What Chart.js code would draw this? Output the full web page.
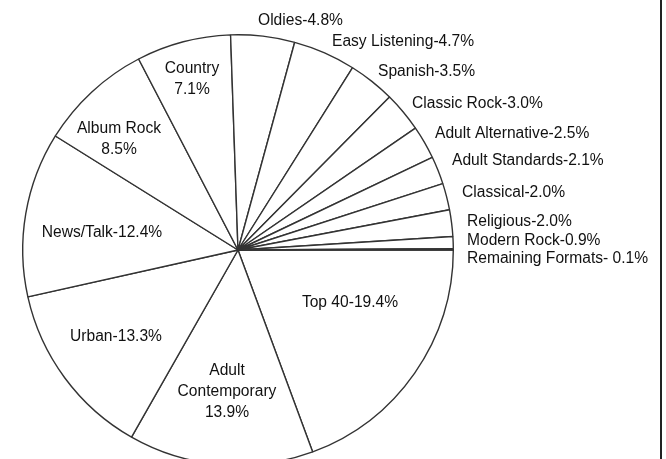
<!DOCTYPE html>
<html>
<head>
<meta charset="utf-8">
<script src="https://cdn.jsdelivr.net/npm/chart.js@4.4.1/dist/chart.umd.min.js"></script>
<style>
  html, body { margin: 0; padding: 0; background: #fff; overflow: hidden; }
  #wrap { position: relative; width: 660px; height: 480px; border-right: 2px solid #222; }
</style>
</head>
<body>
<div id="wrap"><canvas id="myChart"></canvas></div>
<script>
// slices go clockwise starting at 3 o'clock
let formats = [
  'Top 40', 'Adult Contemporary', 'Urban', 'News/Talk', 'Album Rock', 'Country',
  'Oldies', 'Easy Listening', 'Spanish', 'Classic Rock', 'Adult Alternative',
  'Adult Standards', 'Classical', 'Religious', 'Modern Rock', 'Remaining Formats'
]
let shares = [19.4, 13.9, 13.3, 12.4, 8.5, 7.1, 4.8, 4.7, 3.5, 3.0, 2.5, 2.1, 2.0, 2.0, 0.9, 0.1]

// where each label sits, relative to pie centre, in pixels (left = left aligned, else centred)
let labelSpots = [
  { x: 112, y: 53, lines: 'one' },
  { x: -11, y: 142, lines: ['Adult', 'Contemporary', '#'] },
  { x: -122, y: 87, lines: 'one' },
  { x: -136, y: -17, lines: 'one' },
  { x: -119, y: -111, lines: ['Album Rock', '#'] },
  { x: -46, y: -171, lines: ['Country', '#'] },
  { x: 20, y: -229, lines: 'one', left: true },
  { x: 94, y: -208, lines: 'one', left: true },
  { x: 140, y: -178, lines: 'one', left: true },
  { x: 174, y: -146, lines: 'one', left: true },
  { x: 197, y: -116, lines: 'one', left: true },
  { x: 214, y: -89, lines: 'one', left: true },
  { x: 224, y: -57, lines: 'one', left: true },
  { x: 229, y: -28, lines: 'one', left: true },
  { x: 229, y: -9, lines: 'one', left: true },
  { x: 229, y: 9, lines: 'one', left: true, gap: ' ' }
]

const pieLabels = {
  id: 'pieLabels',
  afterDraw(chart) {
    let ctx = chart.ctx
    let arc = chart.getDatasetMeta(0).data[0]
    let cx = arc.x, cy = arc.y
    ctx.save()
    ctx.fillStyle = '#111'
    ctx.font = '15.6px "Liberation Sans", Arial, sans-serif'
    ctx.textBaseline = 'middle'
    formats.forEach((name, i) => {
      let spot = labelSpots[i]
      let pct = shares[i].toFixed(1) + '%'
      let lines
      if (spot.lines === 'one') lines = [name + '-' + (spot.gap || '') + pct]
      else lines = spot.lines.map((l) => (l === '#' ? pct : l))
      ctx.textAlign = spot.left ? 'left' : 'center'
      let lh = 21
      let y0 = cy + spot.y - ((lines.length - 1) * lh) / 2
      lines.forEach((l, k) => {
        ctx.fillText(l, cx + spot.x, y0 + k * lh)
      })
    })
    ctx.restore()
  },
}

const ctx = document.getElementById('myChart').getContext('2d')
const myChart = new Chart(ctx, {
  type: 'pie',
  data: {
    labels: formats,
    datasets: [
      {
        data: shares,
        backgroundColor: '#fff',
        borderColor: '#333',
        borderWidth: 1.4,
        hoverOffset: 0,
      },
    ],
  },
  options: {
    responsive: true,
    maintainAspectRatio: false,
    animation: false,
    rotation: 90,
    layout: { padding: { left: 22, top: 34, right: 206, bottom: 14 } },
    plugins: {
      legend: { display: false },
      tooltip: { enabled: false },
    },
  },
  plugins: [pieLabels],
})
</script>
</body>
</html>
